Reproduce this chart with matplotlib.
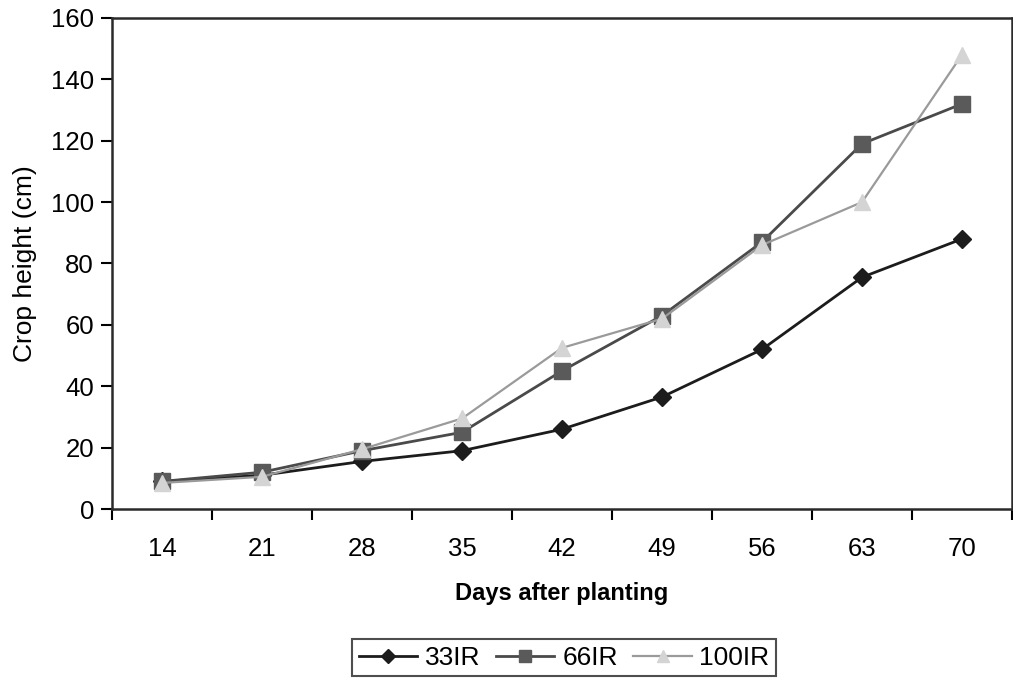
import numpy as np
import matplotlib.pyplot as plt

plt.rcParams['font.family'] = ['Liberation Sans', 'DejaVu Sans']

# Data
days = ['14', '21', '28', '35', '42', '49', '56', '63', '70']
ir33 = [9, 11, 15.5, 19, 26, 36.5, 52, 75.5, 88]
ir66 = [9, 12, 19, 25, 45, 63, 87, 119, 132]
ir100 = [8.5, 10.5, 19.5, 29.5, 52.5, 62, 86, 100, 148]

x = np.arange(len(days))

fig = plt.figure(figsize=(10.13, 6.86), dpi=100)
ax = fig.add_axes([0.1106, 0.258, 0.8884, 0.7158])

ax.plot(x, ir33, color='#1c1c1c', lw=2, marker='D', ms=9,
        mfc='#1c1c1c', mec='#1c1c1c', label='33IR', zorder=3)
ax.plot(x, ir66, color='#4a4a4a', lw=2, marker='s', ms=11,
        mfc='#5a5a5a', mec='#5a5a5a', label='66IR', zorder=3)
ax.plot(x, ir100, color='#9a9a9a', lw=1.6, marker='^', ms=12,
        mfc='#d4d4d4', mec='#d4d4d4', label='100IR', zorder=4)

ax.set_xlim(-0.5, len(days) - 0.5)
ax.set_ylim(0, 160)
ax.set_yticks(np.arange(0, 161, 20))

# category ticks between groups, labels at centres
ax.set_xticks(np.arange(-0.5, len(days)), labels=[])
ax.set_xticks(x, labels=days, minor=True)
ax.tick_params(axis='x', which='minor', length=0, pad=20, labelsize=18.5)
ax.tick_params(axis='x', which='major', length=8, width=1.5, direction='out')
ax.tick_params(axis='y', length=8, width=1.5, labelsize=18.5, pad=5)

for s in ax.spines.values():
    s.set_color('#2a2a2a')
    s.set_linewidth(1.8)

ax.set_xlabel('Days after planting', fontsize=17, fontweight='bold', labelpad=15)
ax.set_ylabel('Crop height (cm)', fontsize=19, labelpad=10)

fig.legend(loc='center', bbox_to_anchor=(0.557, 0.041), ncol=3, fontsize=19,
           frameon=True, fancybox=False, edgecolor='#222222', handlelength=2.2,
           handletextpad=0.3, columnspacing=0.6, borderpad=0.25,
           markerscale=0.75, borderaxespad=0).get_frame().set_linewidth(1.5)

fig.savefig('out.png', dpi=100)
